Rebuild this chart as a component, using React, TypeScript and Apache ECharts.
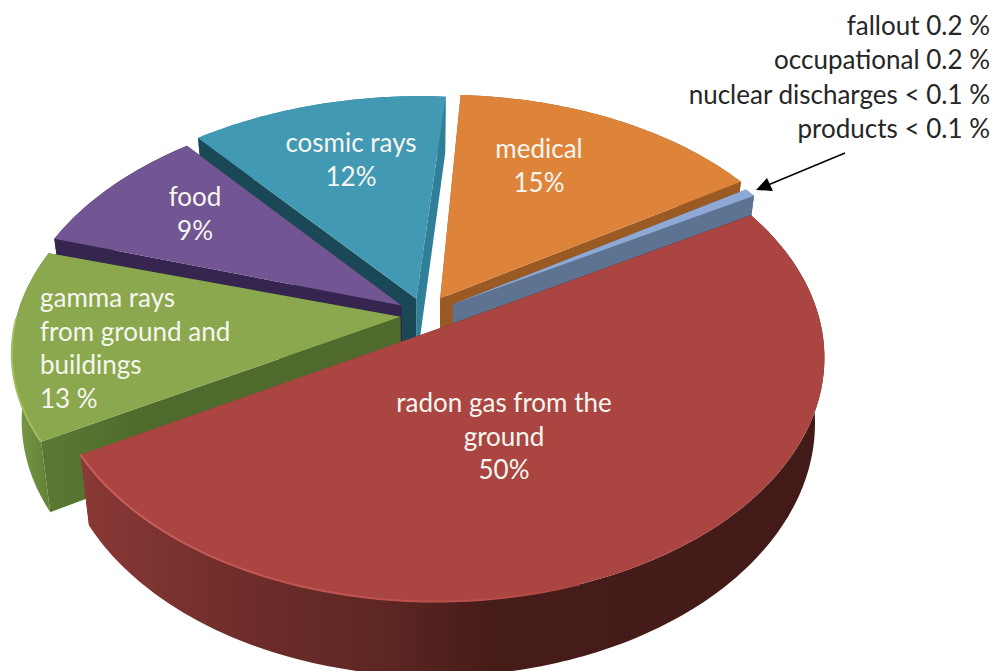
import React, { useEffect, useRef } from "react";
import * as echarts from "echarts";

// Shares of the annual radiation dose, in percent.
const sliceNames = ["minor sources", "medical", "cosmic rays", "food", "gamma rays", "radon"];
const minorSourceValues = [0.2, 0.2, 0.1, 0.1];
const minorTotal = minorSourceValues.reduce((a, b) => a + b, 0);
const sliceValues = [minorTotal, 15, 12, 9, 13, 50];

// Text placed on each slice.
const sliceLabels = [
  { lines: ["medical", "15%"], x: 539, y: 148, align: "center" },
  { lines: ["cosmic rays", "12%"], x: 351, y: 142, align: "center" },
  { lines: ["food", "9%"], x: 195, y: 196, align: "center" },
  { lines: ["gamma rays", "from ground and", "buildings", "13 %"], x: 40, y: 297, align: "left" },
  { lines: ["radon gas from the", "ground", "50%"], x: 504, y: 402, align: "center" },
];
const minorLabels = ["fallout 0.2 %", "occupational 0.2 %", "nuclear discharges < 0.1 %", "products < 0.1 %"];

// Per-slice pull-out from the pie centre (pie radii), radius, turn (degrees) and screen nudge (px).
const explode = [0.09, 0.1, 0.08, 0.06, 0.06, 0.05];
const radiusScale = [1, 1.03, 1.02, 1, 1, 1.01];
const sliceTurn = [0, 0, -1, -1, 0, 0];
const sliceNudge: [number, number][] = [[4, -3], [1, 0], [5, -2], [0, -5], [3, -3], [13, -1]];
const paintOrder = [2, 3, 4, 1, 0, 5];

// Pie plane to screen homography; the half of the plane nearest the viewer is a little deeper.
const ORIGIN = [420, 318];
const AXIS_U = [328, -118];
const AXIS_V_BACK = [-188, -195];
const AXIS_V_FRONT = [-190, -203];
const PERSP_V = 0.1;
const PERSP_U = 0.0755;
const DEPTH = 65;
const FONT = "Lato";
const LABEL_SIZE = 26;
const LINE_GAP = 33.7;

type Pt = [number, number];
const weight = (x: number, y: number) => 1 + PERSP_V * y + PERSP_U * x;
const project = (x: number, y: number): Pt => {
  const w = weight(x, y);
  const v = y < 0 ? AXIS_V_FRONT : AXIS_V_BACK;
  return [ORIGIN[0] + (x * AXIS_U[0] + y * v[0]) / w, ORIGIN[1] + (x * AXIS_U[1] + y * v[1]) / w];
};
// A point on the underside directly below a plane point.
const dropped = (x: number, y: number): Pt => {
  const p = project(x, y);
  return [p[0] + 0.024 * (420 - p[0]), p[1] + DEPTH / weight(x, y)];
};

const horizontal = (stops: [number, string][]) =>
  new echarts.graphic.LinearGradient(0, 0, 1, 0, stops.map(([offset, color]) => ({ offset, color })));

const sliceStyles = [
  { top: "#8FA9D6", outer: "#5E7392", start: "#5E7392", end: "#5E7392" },
  { top: "#DE843A", outer: "#9A5A23", start: "#9A5A23", end: "#9A5A23" },
  { top: "#4299B3", outer: "#307F98", start: "#307F98", end: "#1B4856" },
  { top: "#725593", outer: "#35254F", start: "#35254F", end: "#35254F" },
  {
    top: "#8BA84F",
    outer: horizontal([[0, "#7C9C47"], [1, "#5B7C34"]]),
    start: "#3F5A2A",
    end: horizontal([[0, "#5A7A33"], [0.3, "#4E6A2C"], [1, "#4F6A2C"]]),
  },
  {
    top: "#AB4542",
    outer: horizontal([[0, "#8A3936"], [0.2, "#702E2B"], [0.4, "#5E2724"], [0.55, "#461C19"], [1, "#421A18"]]),
    start: "#8A3936",
    end: "#421A18",
  },
];

// Angular extent of every slice, running counter-clockwise from the right-hand end of the radon chord.
const total = sliceValues.reduce((a, b) => a + b, 0);
const sliceAngles = sliceValues.reduce<[number, number][]>((acc, v) => {
  const from = acc.length ? acc[acc.length - 1][1] : 0;
  acc.push([from, from + (v / total) * Math.PI * 2]);
  return acc;
}, []);

const renderSlice = (_: unknown, api: any) => {
  const i = api.value(0);
  const turn = (sliceTurn[i] * Math.PI) / 180;
  const a0 = sliceAngles[i][0] + turn;
  const a1 = sliceAngles[i][1] + turn;
  const mid = (a0 + a1) / 2;
  const r = radiusScale[i];
  const [nx, ny] = sliceNudge[i];
  const cx = explode[i] * Math.cos(mid);
  const cy = explode[i] * Math.sin(mid);
  const steps = Math.max(2, Math.ceil(((a1 - a0) * 180) / Math.PI));
  const shift = (p: Pt): Pt => [p[0] + nx, p[1] + ny];
  const rim: Pt[] = [];
  const rimBelow: Pt[] = [];
  for (let s = 0; s <= steps; s++) {
    const a = a0 + ((a1 - a0) * s) / steps;
    const x = cx + r * Math.cos(a);
    const y = cy + r * Math.sin(a);
    rim.push(shift(project(x, y)));
    rimBelow.push(shift(dropped(x, y)));
  }
  const tip = shift(project(cx, cy));
  const tipBelow = shift(dropped(cx, cy));
  const style = sliceStyles[i];
  const poly = (points: Pt[], fill: any) => ({ type: "polygon", shape: { points }, style: { fill } });
  const outer = poly([...rim, ...rimBelow.slice().reverse()], style.outer);
  const sideA = poly([tip, rim[0], rimBelow[0], tipBelow], style.start);
  const sideB = poly([tip, rim[steps], rimBelow[steps], tipBelow], style.end);
  // The radon slice faces the viewer, so its cut faces sit behind its curved wall.
  const walls = i === 5 ? [sideA, sideB, outer] : [outer, sideA, sideB];
  const children: any[] = [...walls, poly([tip, ...rim], style.top)];
  // Bevel highlight on the front-left rims.
  if (i === 5) {
    children.push({
      type: "polyline",
      shape: { points: rim.slice(0, 80) },
      style: {
        fill: "none",
        lineWidth: 2,
        stroke: horizontal([[0, "#C9605C"], [0.85, "#B94E4B"], [1, "#AB4542"]]),
      },
    });
  }
  if (i === 4) {
    children.push({
      type: "polyline",
      shape: { points: rim.slice(Math.max(0, steps - 30)) },
      style: { fill: "none", lineWidth: 2, stroke: "#A3BE62" },
    });
  }
  return { type: "group", children };
};

const App = () => {
  const ref = useRef<HTMLDivElement>(null);
  useEffect(() => {
    document.body.style.margin = "0";
    const chart = echarts.init(ref.current!, null, { renderer: "svg" });
    const text = (value: string, x: number, y: number, align: string, fill: string) => ({
      type: "text",
      z: 100,
      x,
      y,
      style: { text: value, fill, align, verticalAlign: "middle", fontFamily: FONT, fontSize: LABEL_SIZE },
    });
    const graphics: any[] = [];
    sliceLabels.forEach((label) =>
      label.lines.forEach((line, n) =>
        graphics.push(text(line, label.x, label.y + n * LINE_GAP, label.align, "#F6F6F0"))
      )
    );
    minorLabels.forEach((line, n) => graphics.push(text(line, 990, 25 + n * 34.4, "right", "#262626")));
    graphics.push(
      { type: "line", z: 100, shape: { x1: 845, y1: 153, x2: 768, y2: 185 }, style: { stroke: "#000", lineWidth: 1.5 } },
      { type: "polygon", z: 100, shape: { points: [[756, 190], [767, 178], [773, 191]] }, style: { fill: "#000" } }
    );
    chart.setOption({
      animation: false,
      backgroundColor: "#FFFFFF",
      graphic: graphics,
      series: [
        {
          type: "custom",
          coordinateSystem: "none",
          name: "dose",
          silent: true,
          renderItem: renderSlice,
          data: paintOrder.map((i) => ({ name: sliceNames[i], value: [i, sliceValues[i]] })),
        },
      ],
    });
    return () => chart.dispose();
  }, []);
  return <div ref={ref} style={{ position: "absolute", left: 0, top: 0, width: 997, height: 671 }} />;
};

export default App;
